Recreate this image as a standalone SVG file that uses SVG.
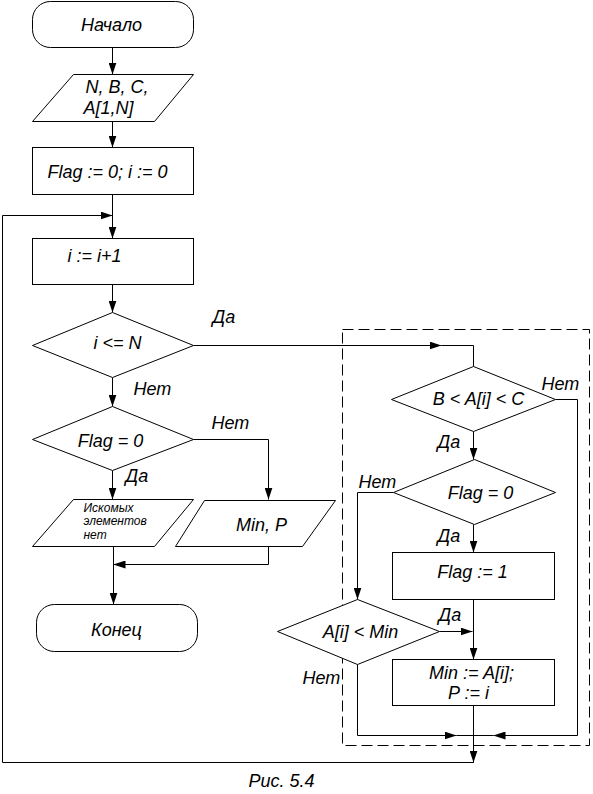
<svg xmlns="http://www.w3.org/2000/svg" width="593" height="794" viewBox="0 0 593 794">
<style>
.s{fill:#fff;stroke:#000;stroke-width:1}
.c{fill:none;stroke:#000;stroke-width:1}
text{font-family:"Liberation Sans",Arial,sans-serif;font-style:italic;font-size:18px;fill:#000}
.m{text-anchor:middle}
.sm{font-size:12px}
.cap{font-size:18px}
</style>
<defs>
<marker id="a" viewBox="0 0 12 8" refX="12" refY="4" markerWidth="12" markerHeight="8" markerUnits="userSpaceOnUse" orient="auto">
<path d="M0,0 L12,4 L0,8 Z" fill="#000"/>
</marker>
</defs>
<g transform="translate(0.5,0.5)">
<rect x="342" y="329" width="247" height="416" fill="none" stroke="#000" stroke-width="1" stroke-dasharray="11,5"/>
<g id="connectors">
<line class="c" x1="112" y1="47" x2="112" y2="74" marker-end="url(#a)"/>
<line class="c" x1="112" y1="121" x2="112" y2="147" marker-end="url(#a)"/>
<line class="c" x1="112" y1="194" x2="112" y2="238" marker-end="url(#a)"/>
<polyline class="c" points="473,705 473,762"/>
<line class="c" x1="473" y1="735" x2="473" y2="762" stroke-width="2" marker-end="url(#a)"/>
<polyline class="c" points="473,762 2,762 2,215 112,215" marker-end="url(#a)"/>
<line class="c" x1="112" y1="284" x2="112" y2="312" marker-end="url(#a)"/>
<line class="c" x1="193" y1="345" x2="441" y2="345" marker-end="url(#a)"/>
<polyline class="c" points="441,345 473,345 473,366"/>
<line class="c" x1="112" y1="377" x2="112" y2="406" marker-end="url(#a)"/>
<polyline class="c" points="193,439 268,439 268,499" marker-end="url(#a)"/>
<line class="c" x1="112" y1="470" x2="112" y2="499" marker-end="url(#a)"/>
<line class="c" x1="113" y1="546" x2="113" y2="604" marker-end="url(#a)"/>
<polyline class="c" points="268,546 268,564 113,564" marker-end="url(#a)"/>
<line class="c" x1="473" y1="431" x2="473" y2="459" marker-end="url(#a)"/>
<polyline class="c" points="555,399 577,399 577,735 493,735" marker-end="url(#a)"/>
<line class="c" x1="493" y1="735" x2="473" y2="735"/>
<line class="c" x1="473" y1="524" x2="473" y2="552" marker-end="url(#a)"/>
<polyline class="c" points="393,492 357,492 357,599" marker-end="url(#a)"/>
<line class="c" x1="473" y1="599" x2="473" y2="659" marker-end="url(#a)"/>
<line class="c" x1="439" y1="631" x2="472" y2="631" marker-end="url(#a)"/>
<polyline class="c" points="357,664 357,735 456,735" marker-end="url(#a)"/>
<line class="c" x1="456" y1="735" x2="473" y2="735"/>
</g>
<g id="start">
<rect class="s" x="32" y="1" width="161" height="46" rx="18"/>
<text class="m" x="111" y="30">Начало</text>
</g>
<g id="input">
<polygon class="s" points="73,74 193,74 154,121 32,121"/>
<text x="85" y="92">N, B, C,</text>
<text x="83" y="113">A[1,N]</text>
</g>
<g id="init">
<rect class="s" x="32" y="147" width="161" height="47"/>
<text x="47" y="177">Flag := 0; i := 0</text>
</g>
<g id="inc">
<rect class="s" x="32" y="238" width="161" height="46"/>
<text x="67" y="261">i := i+1</text>
</g>
<g id="cond-i">
<polygon class="s" points="112,312 193,345 112,377 32,345"/>
<text class="m" x="117" y="348">i &lt;= N</text>
</g>
<g id="cond-flag">
<polygon class="s" points="112,406 193,439 112,470 32,439"/>
<text class="m" x="110" y="446">Flag = 0</text>
</g>
<g id="out-none">
<polygon class="s" points="73,499 193,499 154,546 32,546"/>
<text class="sm" x="83" y="511">Искомых</text>
<text class="sm" x="83" y="524">элементов</text>
<text class="sm" x="83" y="538">нет</text>
</g>
<g id="out-min">
<polygon class="s" points="204,500 335,500 302,546 175,546"/>
<text class="m" x="261" y="530">Min, P</text>
</g>
<g id="end">
<rect class="s" x="36" y="604" width="161" height="47" rx="18"/>
<text class="m" x="116" y="635">Конец</text>
</g>
<g id="cond-range">
<polygon class="s" points="473,366 555,399 473,431 391,399"/>
<text class="m" x="478" y="404">B &lt; A[i] &lt; C</text>
</g>
<g id="cond-flag2">
<polygon class="s" points="474,459 555,492 474,524 393,492"/>
<text class="m" x="480" y="498">Flag = 0</text>
</g>
<g id="set-flag">
<rect class="s" x="392" y="552" width="162" height="47"/>
<text class="m" x="472" y="577">Flag := 1</text>
</g>
<g id="cond-min">
<polygon class="s" points="357,599 439,631 357,664 277,631"/>
<text class="m" x="360" y="637">A[i] &lt; Min</text>
</g>
<g id="set-min">
<rect class="s" x="392" y="659" width="162" height="46"/>
<text class="m" x="471" y="678">Min := A[i];</text>
<text class="m" x="468" y="698">P := i</text>
</g>
<g id="labels">
<text x="212" y="322">Да</text>
<text x="133" y="394">Нет</text>
<text x="211" y="428">Нет</text>
<text x="125" y="481">Да</text>
<text x="541" y="389">Нет</text>
<text x="437" y="447">Да</text>
<text x="358" y="487">Нет</text>
<text x="437" y="541">Да</text>
<text x="438" y="620">Да</text>
<text x="302" y="683">Нет</text>
<text class="cap" x="248" y="786">Рис. 5.4</text>
</g>
</g>
</svg>
